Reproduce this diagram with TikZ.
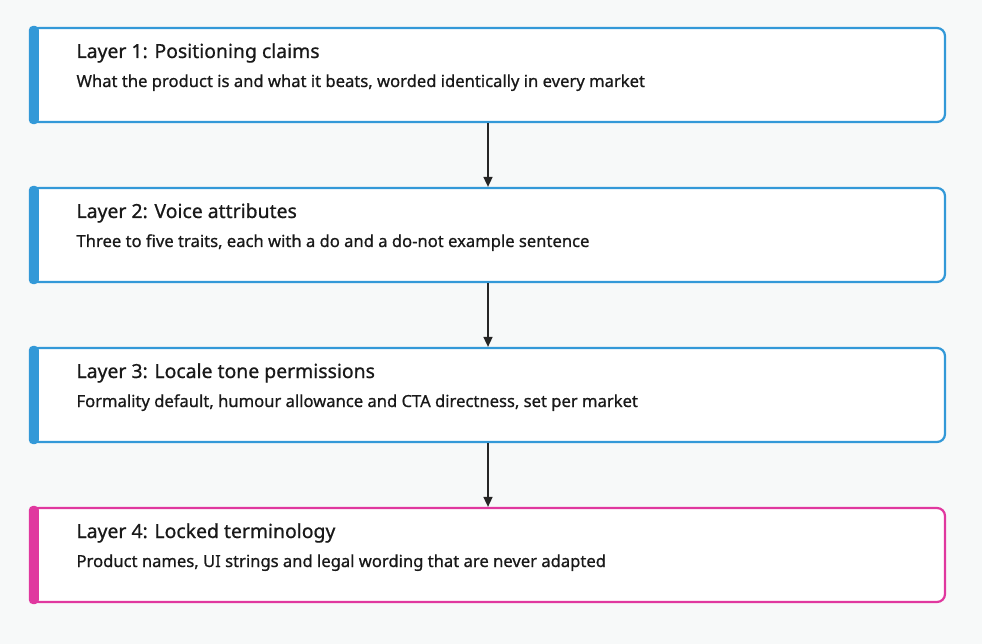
\documentclass[tikz,border=0pt]{standalone}
\usepackage{fontspec}
\setmainfont{Noto Sans}[FakeBold=0.8]
\usetikzlibrary{positioning,arrows.meta}
\definecolor{layerblue}{HTML}{3399D8}
\definecolor{layerpink}{HTML}{E0389F}
\definecolor{bgcol}{HTML}{F7F9F9}
\begin{document}
\begin{tikzpicture}[
                x=1pt, y=-1pt,
                layer/.style={
                    draw=layerblue, line width=2.2pt, rounded corners=8pt,
                    fill=white, minimum width=914pt, minimum height=94pt,
                    inner sep=0pt
                },
                title/.style={anchor=base west, font=\fontsize{19.4}{22}\bfseries\color{black!90}},
                sub/.style={anchor=base west, font=\fontsize{16.6}{18}\bfseries\color{black!90}},
                arrow/.style={-{Triangle[length=10pt,width=9pt]}, line width=1.6pt, black!85}
            ]
                \fill[bgcol] (0,0) rectangle (982,644);
                \useasboundingbox (0,0) rectangle (982,644);

                % Ebenen
                \foreach \n/\yy/\col/\ttl/\txt in {
                    1/75/layerblue/{Layer 1: Positioning claims}/{What the product is and what it beats, worded identically in every market},
                    2/235/layerblue/{Layer 2: Voice attributes}/{Three to five traits, each with a do and a do-not example sentence},
                    3/395/layerblue/{Layer 3: Locale tone permissions}/{Formality default, humour allowance and CTA directness, set per market},
                    4/555/layerpink/{Layer 4: Locked terminology}/{Product names, UI strings and legal wording that are never adapted}}{
                    \node[layer, draw=\col] (L\n) at (488,\yy) {};
                    \fill[\col, rounded corners=4pt] ([xshift=-1pt,yshift=1pt]L\n.north west) rectangle ([xshift=9pt,yshift=-1pt]L\n.south west);
                    \node[title] (T\n) at (73,\yy-17) {\ttl};
                    \node[sub] (S\n) at (73,\yy+12) {\txt};
                }

                % Pfeile
                \draw[arrow] (L1) -- (L2);
                \draw[arrow] (L2) -- (L3);
                \draw[arrow] (L3) -- (L4);
\end{tikzpicture}
\end{document}
